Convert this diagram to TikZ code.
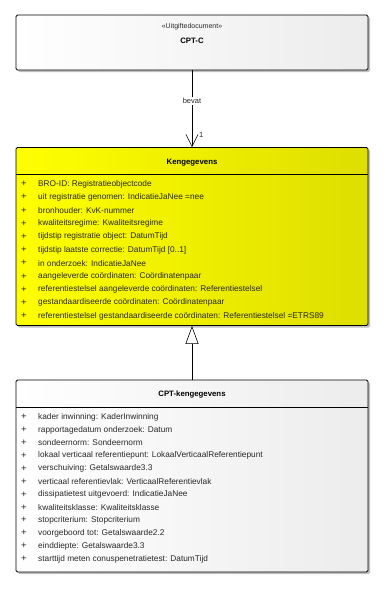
\documentclass[tikz,border=0pt]{standalone}
\usepackage{fontspec}
\setmainfont{Liberation Sans}
\usetikzlibrary{shadows,arrows.meta}
\definecolor{yl}{RGB}{255,255,0}
\definecolor{yr}{RGB}{222,222,0}
\definecolor{wl}{RGB}{255,255,255}
\definecolor{wr}{RGB}{236,236,236}
\definecolor{txt}{RGB}{40,40,40}
\tikzset{
  umlbox/.style={draw=black, line width=0.8pt, rounded corners=1.5pt, inner sep=0pt,
    minimum width=352pt, drop shadow={shadow xshift=2pt, shadow yshift=-2pt, fill=black!25, opacity=1}},
  ylbox/.style={umlbox, left color=yl, right color=yr},
  whbox/.style={umlbox, left color=wl, right color=wr},
  attr/.style={anchor=west, inner sep=0pt, font=\fontsize{8.3}{9}\selectfont, text=txt},
  plus/.style={anchor=center, inner sep=0pt, font=\fontsize{9.5}{10}\selectfont, text=txt},
  ttl/.style={inner sep=0pt, font=\fontsize{7.8}{9}\selectfont\bfseries, text=black},
  conn/.style={draw=black, line width=0.6pt}
}
\begin{document}
\begin{tikzpicture}[x=1pt,y=-1pt]
\useasboundingbox (0,0) rectangle (385,598);
% top box
\node[whbox, minimum height=55pt] (cptc) at (192,42.5) {};
\node[inner sep=0pt, font=\fontsize{7}{8}\selectfont, text=txt] (st) at (192,26.5) {«Uitgiftedocument»};
\node[ttl] (cptcname) at (192,41) {CPT-C};
% Kengegevens
\node[ylbox, minimum height=178pt] (keng) at (192,236.5) {};
\node[ttl] (kengname) at (192,163) {Kengegevens};
\draw[line width=0.6pt] (16,174) coordinate (ks1) -- (368,174) coordinate (ks2);
\foreach \t [count=\i from 0] in {%
  {BRO-ID: Registratieobjectcode},
  {uit registratie genomen: IndicatieJaNee =nee},
  {bronhouder: KvK-nummer},
  {kwaliteitsregime: Kwaliteitsregime},
  {tijdstip registratie object: DatumTijd},
  {tijdstip laatste correctie: DatumTijd [0..1]},
  {in onderzoek: IndicatieJaNee},
  {aangeleverde coördinaten: Coördinatenpaar},
  {referentiestelsel aangeleverde coördinaten: Referentiestelsel},
  {gestandaardiseerde coördinaten: Coördinatenpaar},
  {referentiestelsel gestandaardiseerde coördinaten: Referentiestelsel =ETRS89}}{
  \node[plus] (kp\i) at (24,184+13.2*\i) {+};
  \node[attr] (ka\i) at (38,184+13.2*\i) {\t};
}
% CPT-kengegevens
\node[whbox, minimum height=192pt] (cpt) at (192,476) {};
\node[ttl] (cptname) at (192,394) {CPT-kengegevens};
\draw[line width=0.6pt] (16,407) coordinate (cs1) -- (368,407) coordinate (cs2);
\foreach \t [count=\i from 0] in {%
  {kader inwinning: KaderInwinning},
  {rapportagedatum onderzoek: Datum},
  {sondeernorm: Sondeernorm},
  {lokaal verticaal referentiepunt: LokaalVerticaalReferentiepunt},
  {verschuiving: Getalswaarde3.3},
  {verticaal referentievlak: VerticaalReferentievlak},
  {dissipatietest uitgevoerd: IndicatieJaNee},
  {kwaliteitsklasse: Kwaliteitsklasse},
  {stopcriterium: Stopcriterium},
  {voorgeboord tot: Getalswaarde2.2},
  {einddiepte: Getalswaarde3.3},
  {starttijd meten conuspenetratietest: DatumTijd}}{
  \node[plus] (cp\i) at (24,417+12.9*\i) {+};
  \node[attr] (ca\i) at (38,417+12.9*\i) {\t};
}
% association
\draw[conn, -{Straight Barb[length=12pt, width=12pt, line width=0.6pt]}] (cptc.south) -- node[pos=0.4, fill=white, inner sep=1pt, font=\fontsize{7.5}{9}\selectfont, text=txt] (bevat) {bevat} (keng.north);
\node[inner sep=0pt, font=\fontsize{7.5}{9}\selectfont, text=txt, anchor=west] (mult) at (199,134.5) {1};
% generalization
\draw[conn, -{Triangle[open, length=18pt, width=13pt, line width=0.6pt, fill=white]}] (cpt.north) -- (keng.south);
\end{tikzpicture}
\end{document}
